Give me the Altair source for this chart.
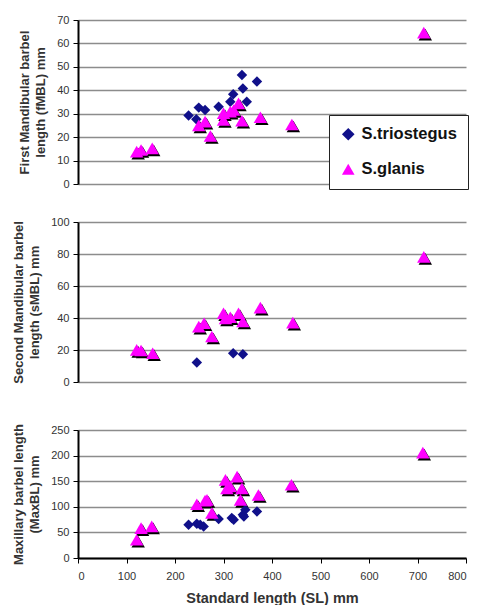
import altair as alt
import pandas as pd

SPECIES = ["S.triostegus", "S.glanis"]

# Panel 1: First Mandibular barbel length (fMBL)
p1_tri_sl = [228, 244, 249, 262, 290, 314, 320, 338, 340, 348, 369]
p1_tri_v = [29.2, 27.6, 32.6, 31.6, 33.0, 35.1, 38.3, 46.5, 40.8, 35.1, 43.7]
p1_gla_sl = [121, 130, 153, 249, 262, 273, 300, 300, 314, 321, 331, 338, 376, 441, 713]
p1_gla_v = [13.8, 14.5, 15.2, 25.0, 26.6, 20.5, 30.2, 27.3, 30.9, 31.6, 34.4, 27.0, 28.5, 25.4, 64.6]

# Panel 2: Second Mandibular barbel length (sMBL)
p2_tri_sl = [245, 320, 340]
p2_tri_v = [12.2, 18.0, 17.4]
p2_gla_sl = [121, 130, 154, 249, 260, 276, 300, 304, 314, 331, 340, 376, 443, 713]
p2_gla_v = [20.1, 19.7, 18.0, 34.6, 36.7, 28.4, 43.0, 39.8, 40.5, 43.0, 37.8, 46.5, 37.1, 78.2]

# Panel 3: Maxillary barbel length (MaxBL)
p3_tri_sl = [228, 245, 252, 259, 290, 317, 321, 340, 342, 345, 369]
p3_tri_v = [65, 66.8, 65, 61.7, 76, 78, 74.6, 84.4, 81, 94, 90.8]
p3_gla_sl = [121, 130, 152, 245, 262, 266, 276, 304, 307, 314, 328, 335, 338, 372, 440, 711]
p3_gla_v = [35.7, 58.4, 61.7, 105, 112, 113.6, 88, 152.6, 136, 139.6, 159, 113.6, 136, 123, 143, 205.8]

x_ticks = [0, 100, 200, 300, 400, 500, 600, 700, 800]

FONT = "Liberation Sans"


def frame(tri_sl, tri_v, gla_sl, gla_v):
    a = pd.DataFrame({"SL": tri_sl, "v": tri_v, "species": SPECIES[0]})
    b = pd.DataFrame({"SL": gla_sl, "v": gla_v, "species": SPECIES[1]})
    return pd.concat([a, b], ignore_index=True)


def panel(df, title, ymax, ystep, height, show_x, show_legend):
    xaxis = alt.Axis(values=x_ticks, grid=False, domainColor="black", domainWidth=2,
                     tickColor="black", tickSize=5, labelFontSize=11, labelColor="#333",
                     labelPadding=7, labelFlush=True, title="Standard length (SL) mm",
                     titleFontSize=14.5, titleFontWeight="bold", titleColor="#333",
                     titlePadding=10, labelFont=FONT, titleFont=FONT) if show_x else None
    x = alt.X("SL:Q", scale=alt.Scale(domain=[0, 800], nice=False), axis=xaxis)
    y = alt.Y("v:Q", scale=alt.Scale(domain=[0, ymax], nice=False),
              axis=alt.Axis(values=list(range(0, ymax + 1, ystep)), grid=True,
                            gridColor="#8c8c8c", gridWidth=1.3, domainColor="black",
                            domainWidth=2, tickColor="black", tickSize=5,
                            labelFontSize=11, labelColor="#333", labelPadding=4,
                            labelFlush=False,
                            title=title, titleFontSize=13, titleFontWeight="bold",
                            titleColor="#333", titlePadding=9, titleLineHeight=16,
                            labelFont=FONT, titleFont=FONT))
    legend = alt.Legend(title=None, orient="none", legendX=251, legendY=95,
                        fillColor="white", strokeColor="#222", padding=11,
                        labelFontSize=16.5, labelFontWeight="bold", labelFont=FONT,
                        labelColor="#111", rowPadding=18, symbolSize=160,
                        labelOffset=5, symbolStrokeWidth=0, labelLimit=200) if show_legend else None
    color = alt.Color("species:N", scale=alt.Scale(domain=SPECIES, range=["#10108a", "#ff00ff"]),
                      legend=legend)
    shape = alt.Shape("species:N", scale=alt.Scale(domain=SPECIES, range=["diamond", "triangle-up"]),
                      legend=legend)
    size = alt.Size("species:N", scale=alt.Scale(domain=SPECIES, range=[110, 180]), legend=None)

    shadow = alt.Chart(df).transform_filter(alt.datum.species == "S.glanis").mark_point(
        filled=True, opacity=1, xOffset=1.5, yOffset=2, shape="triangle-up", color="black"
    ).encode(x=x, y=y, size=alt.value(180))
    pts = alt.Chart(df).mark_point(filled=True, opacity=1).encode(
        x=x, y=y, color=color, shape=shape, size=size)
    return alt.layer(shadow, pts).properties(width=388, height=height)


c1 = panel(frame(p1_tri_sl, p1_tri_v, p1_gla_sl, p1_gla_v),
           ["First Mandibular barbel", "length (fMBL) mm"], 70, 10, 164, False, True)
c2 = panel(frame(p2_tri_sl, p2_tri_v, p2_gla_sl, p2_gla_v),
           ["Second Mandibular barbel", "length (sMBL) mm"], 100, 20, 160, False, False)
c3 = panel(frame(p3_tri_sl, p3_tri_v, p3_gla_sl, p3_gla_v),
           ["Maxillary barbel length", "(MaxBL) mm"], 250, 50, 128, True, False)

chart = alt.vconcat(alt.vconcat(c1, c2, spacing=27), c3, spacing=36).properties(
    padding={"left": 4, "top": 6, "right": 0, "bottom": 0}
).configure_view(stroke=None).resolve_scale(color="independent", shape="independent")

chart.save("out.html", embed_options={"renderer": "svg", "actions": False})
